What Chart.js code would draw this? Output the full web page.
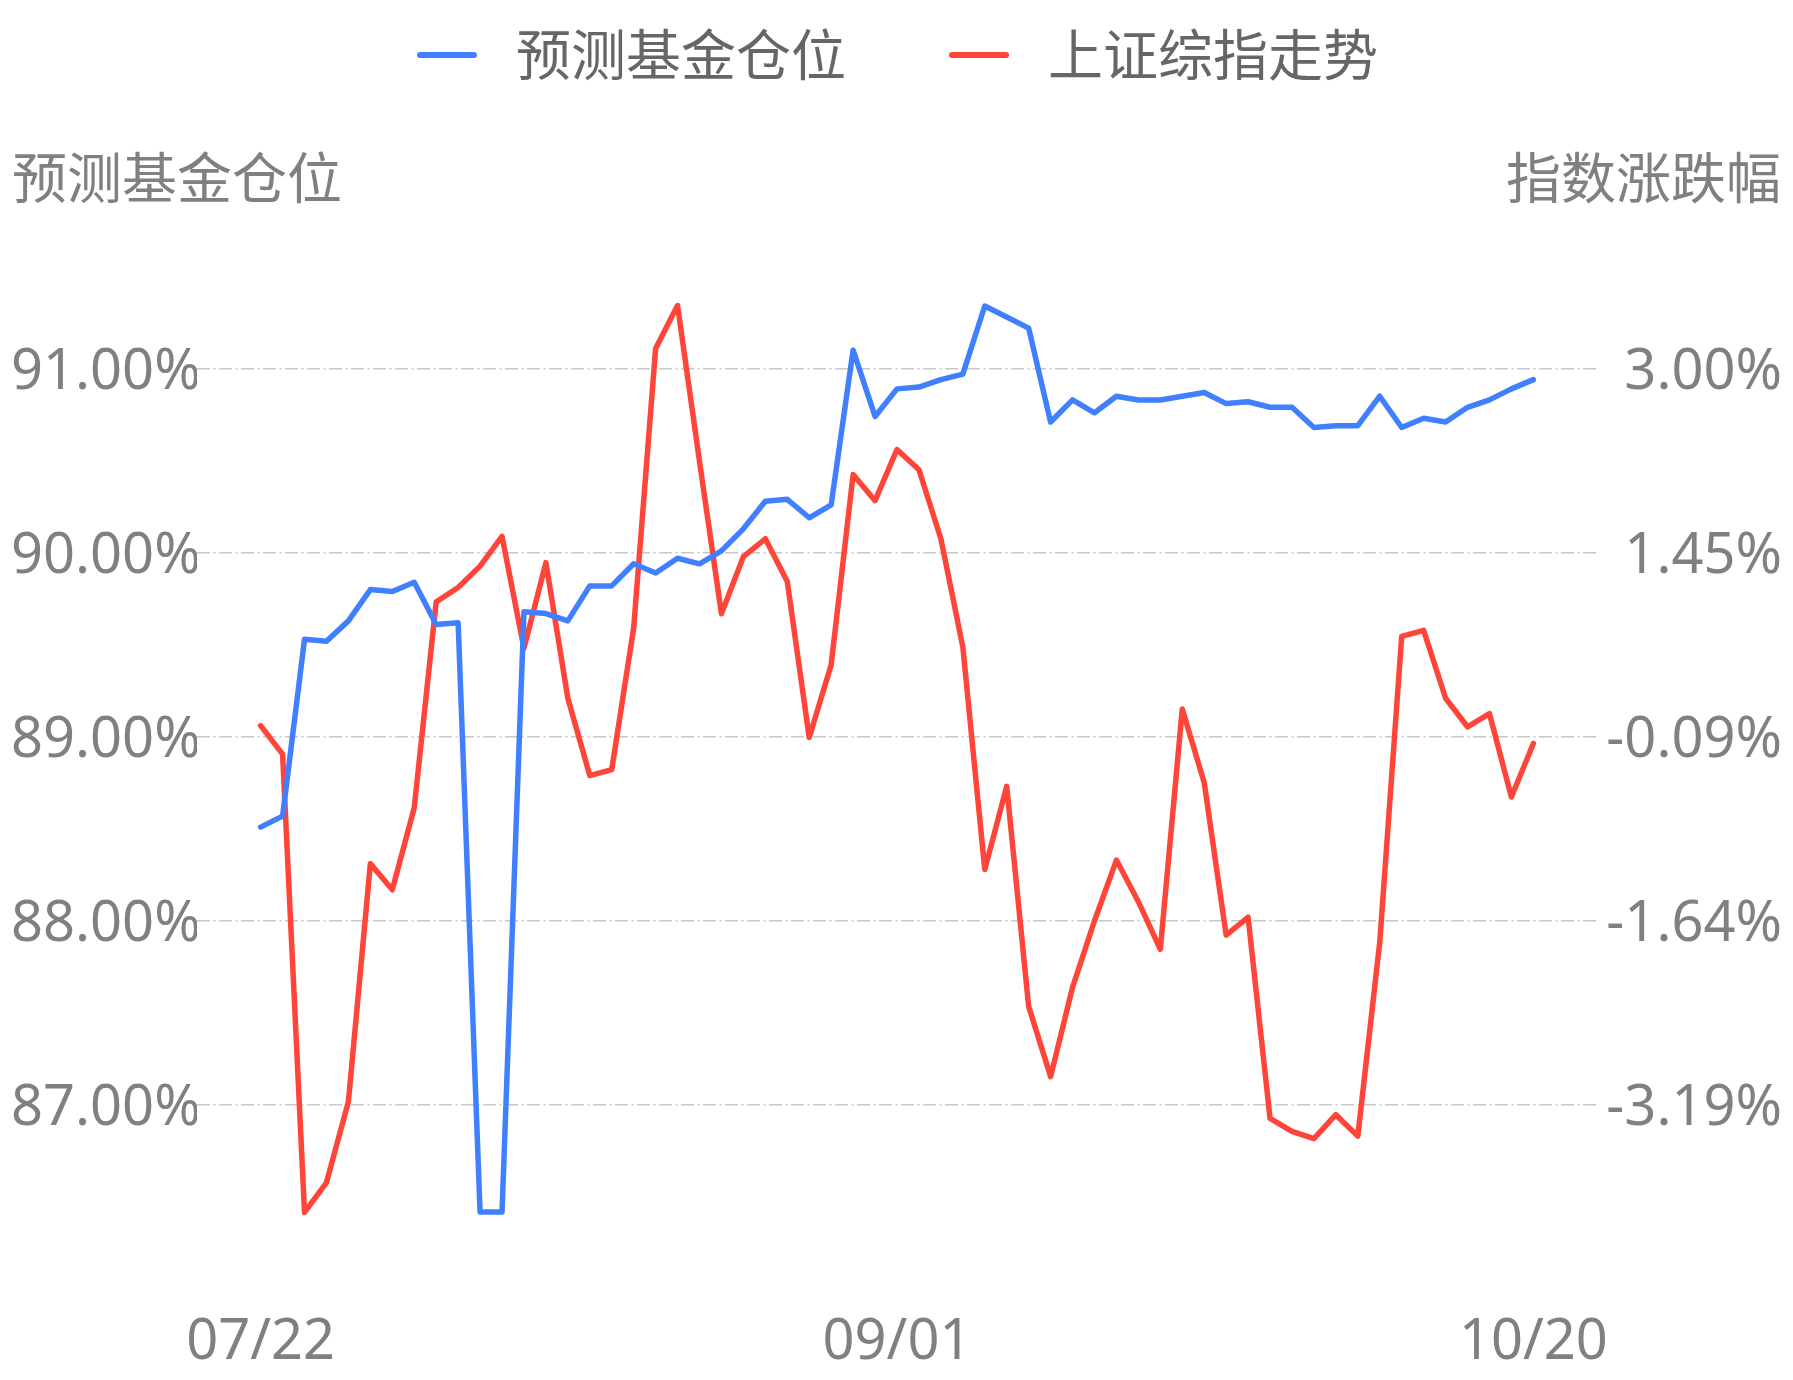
<!DOCTYPE html>
<html>
<head>
<meta charset="utf-8">
<title>预测基金仓位</title>
<script src="https://cdn.jsdelivr.net/npm/chart.js@4.4.1/dist/chart.umd.min.js"></script>
<style>
  html, body { margin: 0; padding: 0; background: #fff; }
  canvas { display: block; }
</style>
</head>
<body>
<canvas id="chart" width="1793" height="1380"></canvas>
<script>
// trading days 2022-07-22 .. 2022-10-20
const categories = [
  '07/22', '07/25', '07/26', '07/27', '07/28', '07/29',
  '08/01', '08/02', '08/03', '08/04', '08/05', '08/08', '08/09', '08/10', '08/11', '08/12',
  '08/15', '08/16', '08/17', '08/18', '08/19', '08/22', '08/23', '08/24', '08/25', '08/26',
  '08/29', '08/30', '08/31',
  '09/01', '09/02', '09/05', '09/06', '09/07', '09/08', '09/09', '09/13', '09/14', '09/15',
  '09/16', '09/19', '09/20', '09/21', '09/22', '09/23', '09/26', '09/27', '09/28', '09/29',
  '09/30',
  '10/10', '10/11', '10/12', '10/13', '10/14', '10/17', '10/18', '10/19', '10/20'
];

// 预测基金仓位 (%)
const fundPosition = [
  88.51, 88.57, 89.53, 89.52, 89.63, 89.80, 89.79, 89.84, 89.61, 89.62,
  86.42, 86.42, 89.68, 89.67, 89.63, 89.82, 89.82, 89.94, 89.89, 89.97,
  89.94, 90.01, 90.13, 90.28, 90.29, 90.19, 90.26, 91.10, 90.74, 90.89,
  90.90, 90.94, 90.97, 91.34, 91.28, 91.22, 90.71, 90.83, 90.76, 90.85,
  90.83, 90.83, 90.85, 90.87, 90.81, 90.82, 90.79, 90.79, 90.68, 90.69,
  90.69, 90.85, 90.68, 90.73, 90.71, 90.79, 90.83, 90.89, 90.94
];

// 上证综指走势 (%)
const indexChange = [
  0.00, -0.24, -4.09, -3.84, -3.16, -1.16, -1.38, -0.69, 1.04, 1.16,
  1.34, 1.59, 0.65, 1.37, 0.23, -0.42, -0.37, 0.82, 3.17, 3.53,
  2.22, 0.94, 1.42, 1.57, 1.21, -0.10, 0.51, 2.11, 1.89, 2.32,
  2.15, 1.57, 0.66, -1.21, -0.51, -2.36, -2.95, -2.20, -1.64, -1.13,
  -1.48, -1.88, 0.14, -0.48, -1.76, -1.61, -3.30, -3.41, -3.47, -3.27,
  -3.45, -1.82, 0.75, 0.80, 0.23, -0.01, 0.10, -0.60, -0.15
];

const leftTicks = [87, 88, 89, 90, 91];
const rightTickLabels = ['-3.19%', '-1.64%', '-0.09%', '1.45%', '3.00%'];
const xTickIndex = [0, 29, 58];
const seriesNames = ['预测基金仓位', '上证综指走势'];
const axisTitles = ['预测基金仓位', '指数涨跌幅'];

const BLUE = '#4080ff';
const RED = '#ff4539';
const FONT = '"Noto Sans", "Noto Sans CJK SC", sans-serif';

// right axis is aligned to the left one: left ticks <-> right tick labels
const rLow = parseFloat(rightTickLabels[0]);
const rHigh = parseFloat(rightTickLabels[rightTickLabels.length - 1]);
const lLow = leftTicks[0];
const lHigh = leftTicks[leftTicks.length - 1];
function toRight(v) {
  return rLow + (v - lLow) * (rHigh - rLow) / (lHigh - lLow);
}
const leftMin = Math.min(...fundPosition);
const leftMax = Math.max(...fundPosition);

const xPad = 2.9;

const headerPlugin = {
  id: 'header',
  afterDraw(chart) {
    const ctx = chart.ctx;
    ctx.save();
    ctx.textBaseline = 'middle';
    ctx.font = '55px ' + FONT;

    // legend
    const items = [
      { x: 420, color: BLUE, text: seriesNames[0] },
      { x: 952, color: RED, text: seriesNames[1] }
    ];
    items.forEach(it => {
      ctx.strokeStyle = it.color;
      ctx.lineWidth = 6;
      ctx.lineCap = 'round';
      ctx.beginPath();
      ctx.moveTo(it.x, 55);
      ctx.lineTo(it.x + 54, 55);
      ctx.stroke();
      ctx.fillStyle = '#666666';
      ctx.textAlign = 'left';
      ctx.fillText(it.text, it.x + 96, 59);
    });

    // axis titles
    ctx.fillStyle = '#808080';
    ctx.textAlign = 'left';
    ctx.fillText(axisTitles[0], 12, 182);
    ctx.textAlign = 'right';
    ctx.fillText(axisTitles[1], 1781, 182);
    ctx.restore();
  }
};

new Chart(document.getElementById('chart'), {
  type: 'line',
  data: {
    datasets: [
      {
        label: seriesNames[0],
        data: fundPosition.map((v, i) => ({ x: i, y: v })),
        yAxisID: 'yLeft',
        borderColor: BLUE,
        backgroundColor: BLUE,
        borderWidth: 5.5,
        pointRadius: 0,
        tension: 0,
        borderCapStyle: 'round',
        borderJoinStyle: 'round',
        clip: false
      },
      {
        label: seriesNames[1],
        data: indexChange.map((v, i) => ({ x: i, y: v })),
        yAxisID: 'yRight',
        borderColor: RED,
        backgroundColor: RED,
        borderWidth: 5.5,
        pointRadius: 0,
        tension: 0,
        borderCapStyle: 'round',
        borderJoinStyle: 'round',
        clip: false
      }
    ]
  },
  options: {
    responsive: false,
    animation: false,
    devicePixelRatio: 1,
    layout: { padding: { top: 306, left: 11, right: 11, bottom: 0 } },
    plugins: {
      legend: { display: false },
      tooltip: { enabled: false }
    },
    scales: {
      x: {
        type: 'linear',
        min: -xPad,
        max: categories.length - 1 + xPad,
        grid: { display: false, drawTicks: false },
        border: { display: false },
        afterBuildTicks: s => { s.ticks = xTickIndex.map(v => ({ value: v })); },
        afterFit: s => { s.height = 168; },
        ticks: {
          padding: 97,
          maxRotation: 0,
          autoSkip: false,
          color: '#808080',
          font: { family: FONT, size: 56 },
          callback: v => categories[v]
        }
      },
      yLeft: {
        position: 'left',
        min: leftMin,
        max: leftMax,
        afterBuildTicks: s => { s.ticks = leftTicks.map(v => ({ value: v })); },
        afterFit: s => { s.width = 186; },
        grid: {
          color: '#c8c8c8',
          lineWidth: 1.5,
          drawTicks: false
        },
        border: { display: false, dash: [13, 3.5, 2, 3.5] },
        ticks: {
          crossAlign: 'far',
          padding: 0,
          labelOffset: 4,
          color: '#808080',
          font: { family: FONT, size: 56 },
          callback: v => v.toFixed(2) + '%'
        }
      },
      yRight: {
        position: 'right',
        min: toRight(leftMin),
        max: toRight(leftMax),
        afterBuildTicks: s => { s.ticks = leftTicks.map(v => ({ value: toRight(v) })); },
        afterFit: s => { s.width = 185; },
        grid: { display: false, drawTicks: false },
        border: { display: false },
        ticks: {
          crossAlign: 'far',
          padding: 0,
          labelOffset: 4,
          color: '#808080',
          font: { family: FONT, size: 56 },
          callback: (v, i) => rightTickLabels[i]
        }
      }
    }
  },
  plugins: [headerPlugin]
});
</script>
</body>
</html>
